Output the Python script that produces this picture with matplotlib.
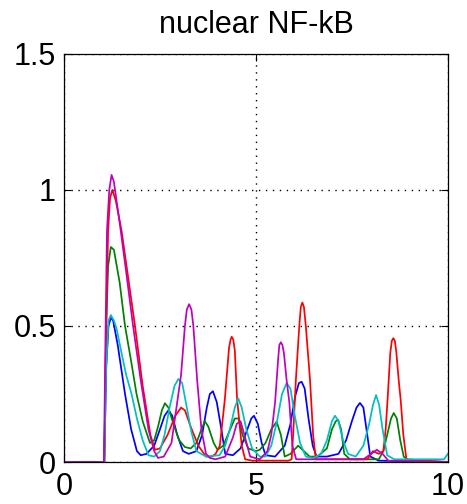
import matplotlib
matplotlib.use("Agg")
import matplotlib.pyplot as plt

plt.rcParams['font.family'] = ['Liberation Sans', 'DejaVu Sans']

title = "nuclear NF-kB"
x_ticks = [0, 5, 10]
y_ticks = [0, 0.5, 1, 1.5]
y_tick_labels = ["0", "0.5", "1", "1.5"]

# blue trace
blue_x = [0, 1.05, 1.10, 1.16, 1.22, 1.28, 1.40, 1.59, 1.75, 1.90, 2.00, 2.15, 2.35, 2.50,
          2.62, 2.72, 2.82, 2.95, 3.10, 3.25, 3.45, 3.60, 3.72, 3.80, 3.88, 3.98, 4.10, 4.20,
          4.40, 4.60, 4.75, 4.88, 4.95, 5.05, 5.15, 5.25, 5.50, 5.75, 5.90, 6.02, 6.12, 6.19,
          6.27, 6.37, 6.48, 6.58, 6.85, 7.15, 7.35, 7.50, 7.62, 7.71, 7.80, 7.90, 7.98, 8.20, 10]
blue_y = [0, 0, 0.35, 0.50, 0.53, 0.52, 0.43, 0.25, 0.12, 0.04, 0.025, 0.03, 0.06, 0.12,
          0.17, 0.19, 0.17, 0.10, 0.04, 0.03, 0.04, 0.10, 0.20, 0.25, 0.26, 0.22, 0.12, 0.03,
          0.025, 0.05, 0.11, 0.16, 0.17, 0.14, 0.07, 0.025, 0.02, 0.06, 0.14, 0.24, 0.29, 0.295,
          0.27, 0.16, 0.06, 0.02, 0.02, 0.03, 0.08, 0.15, 0.20, 0.217, 0.20, 0.10, 0.02, 0.005, 0]

# green trace
green_x = [0, 1.05, 1.10, 1.15, 1.22, 1.30, 1.45, 1.59, 1.75, 1.89, 2.05, 2.24, 2.35, 2.45,
           2.55, 2.63, 2.72, 2.85, 3.00, 3.15, 3.30, 3.45, 3.58, 3.67, 3.76, 3.90, 4.00, 4.15,
           4.30, 4.45, 4.55, 4.65, 4.80, 5.00, 5.10, 5.25, 5.40, 5.54, 5.65, 5.75, 5.90, 6.10,
           6.25, 6.40, 6.60, 6.85, 6.98, 7.08, 7.14, 7.22, 7.30, 7.45, 8.20, 8.32, 8.42, 8.52,
           8.59, 8.67, 8.76, 8.85, 9.00, 10]
green_y = [0, 0, 0.50, 0.72, 0.79, 0.78, 0.66, 0.50, 0.37, 0.25, 0.15, 0.07, 0.08, 0.13,
           0.19, 0.216, 0.20, 0.14, 0.08, 0.055, 0.05, 0.07, 0.12, 0.15, 0.13, 0.07, 0.045, 0.06,
           0.11, 0.16, 0.16, 0.10, 0.05, 0.04, 0.045, 0.07, 0.12, 0.148, 0.10, 0.02, 0.03, 0.06,
           0.04, 0.02, 0.02, 0.05, 0.12, 0.15, 0.155, 0.12, 0.03, 0.01, 0.01, 0.04, 0.10, 0.16,
           0.18, 0.16, 0.08, 0.02, 0.005, 0]

# red trace
red_x = [0, 1.05, 1.10, 1.15, 1.20, 1.26, 1.35, 1.50, 1.65, 1.85, 2.05, 2.25, 2.37, 2.50,
         2.70, 2.90, 3.05, 3.15, 3.30, 3.50, 3.70, 3.85, 3.95, 4.06, 4.19, 4.30, 4.34, 4.37,
         4.41, 4.45, 4.51, 4.63, 4.72, 4.90, 5.85, 5.93, 5.97, 6.04, 6.13, 6.17, 6.21, 6.25,
         6.30, 6.41, 6.49, 6.56, 7.90, 8.05, 8.20, 8.32, 8.38, 8.43, 8.50, 8.54, 8.58, 8.62,
         8.66, 8.72, 8.77, 8.84, 8.92, 10]
red_y = [0, 0, 0.50, 0.85, 0.97, 1.00, 0.96, 0.85, 0.70, 0.50, 0.28, 0.10, 0.045, 0.05,
         0.10, 0.17, 0.20, 0.19, 0.13, 0.06, 0.02, 0.02, 0.03, 0.06, 0.23, 0.42, 0.45, 0.46,
         0.45, 0.41, 0.23, 0.06, 0.01, 0.005, 0.005, 0.01, 0.10, 0.30, 0.50, 0.57, 0.586, 0.57,
         0.50, 0.30, 0.10, 0.01, 0.01, 0.04, 0.03, 0.04, 0.12, 0.23, 0.40, 0.445, 0.455, 0.445,
         0.40, 0.30, 0.23, 0.10, 0.01, 0]

# cyan trace
cyan_x = [0, 1.05, 1.10, 1.16, 1.22, 1.30, 1.37, 1.50, 1.62, 1.76, 1.90, 2.05, 2.20, 2.35,
          2.50, 2.62, 2.75, 2.88, 2.98, 3.08, 3.20, 3.32, 3.45, 3.70, 4.05, 4.20, 4.32, 4.45,
          4.54, 4.63, 4.75, 4.90, 5.10, 5.25, 5.40, 5.55, 5.68, 5.80, 5.90, 6.00, 6.15, 6.30,
          6.50, 6.70, 6.85, 6.98, 7.06, 7.15, 7.27, 7.40, 7.60, 7.80, 7.95, 8.05, 8.13, 8.21,
          8.30, 8.42, 8.60, 9.90, 10]
cyan_y = [0, 0, 0.35, 0.52, 0.54, 0.52, 0.49, 0.40, 0.32, 0.25, 0.16, 0.08, 0.025, 0.02,
          0.04, 0.10, 0.20, 0.28, 0.305, 0.29, 0.20, 0.11, 0.04, 0.02, 0.025, 0.06, 0.12, 0.20,
          0.234, 0.20, 0.12, 0.05, 0.02, 0.02, 0.06, 0.15, 0.25, 0.29, 0.27, 0.18, 0.07, 0.02,
          0.015, 0.03, 0.08, 0.15, 0.17, 0.15, 0.08, 0.03, 0.02, 0.06, 0.14, 0.21, 0.246, 0.21,
          0.12, 0.025, 0.01, 0.01, 0.03]

# magenta trace
magenta_x = [0, 1.04, 1.08, 1.12, 1.18, 1.24, 1.30, 1.45, 1.60, 1.80, 2.00, 2.20, 2.35, 2.45,
             2.60, 2.80, 2.95, 3.05, 3.15, 3.20, 3.26, 3.32, 3.37, 3.47, 3.58, 3.70, 3.80,
             3.95, 4.20, 4.40, 4.50, 4.60, 4.70, 4.85, 5.10, 5.30, 5.40, 5.50, 5.58, 5.61,
             5.65, 5.69, 5.73, 5.80, 5.87, 5.95, 6.05, 7.80, 8.00, 8.15, 8.30, 8.45, 10]
magenta_y = [0, 0, 0.45, 0.85, 1.00, 1.055, 1.03, 0.88, 0.72, 0.50, 0.30, 0.12, 0.04, 0.015,
             0.02, 0.07, 0.22, 0.32, 0.50, 0.56, 0.58, 0.56, 0.50, 0.30, 0.12, 0.03, 0.015,
             0.01, 0.02, 0.09, 0.14, 0.15, 0.10, 0.02, 0.01, 0.04, 0.10, 0.22, 0.38, 0.43,
             0.44, 0.43, 0.40, 0.30, 0.22, 0.06, 0.01, 0.01, 0.03, 0.045, 0.03, 0.005, 0]

series = [
    (blue_x, blue_y, "#0000ff"),
    (green_x, green_y, "#008000"),
    (red_x, red_y, "#ff0000"),
    (cyan_x, cyan_y, "#00bfbf"),
    (magenta_x, magenta_y, "#bf00bf"),
]

fig = plt.figure(figsize=(4.67, 5.04), dpi=100)
ax = fig.add_axes([0.137, 0.0833, 0.822, 0.810])

for xs, ys, col in series:
    ax.plot(xs, ys, color=col, lw=1.25)

ax.set_xlim(0, 10)
ax.set_ylim(0, 1.5)
ax.set_xticks(x_ticks)
ax.set_xticklabels([str(t) for t in x_ticks])
ax.set_yticks(y_ticks)
ax.set_yticklabels(y_tick_labels)
ax.tick_params(direction='in', length=5, width=0.8, top=True, right=True,
               labelsize=22, pad=6)
ax.tick_params(axis='x', pad=7)
ax.grid(True, color='black', linestyle=(0, (1, 4)), linewidth=1.0)
for sp in ax.spines.values():
    sp.set_linewidth(0.9)
ax.set_title(title, fontsize=22, pad=15)

fig.savefig("out.png", dpi=100)
